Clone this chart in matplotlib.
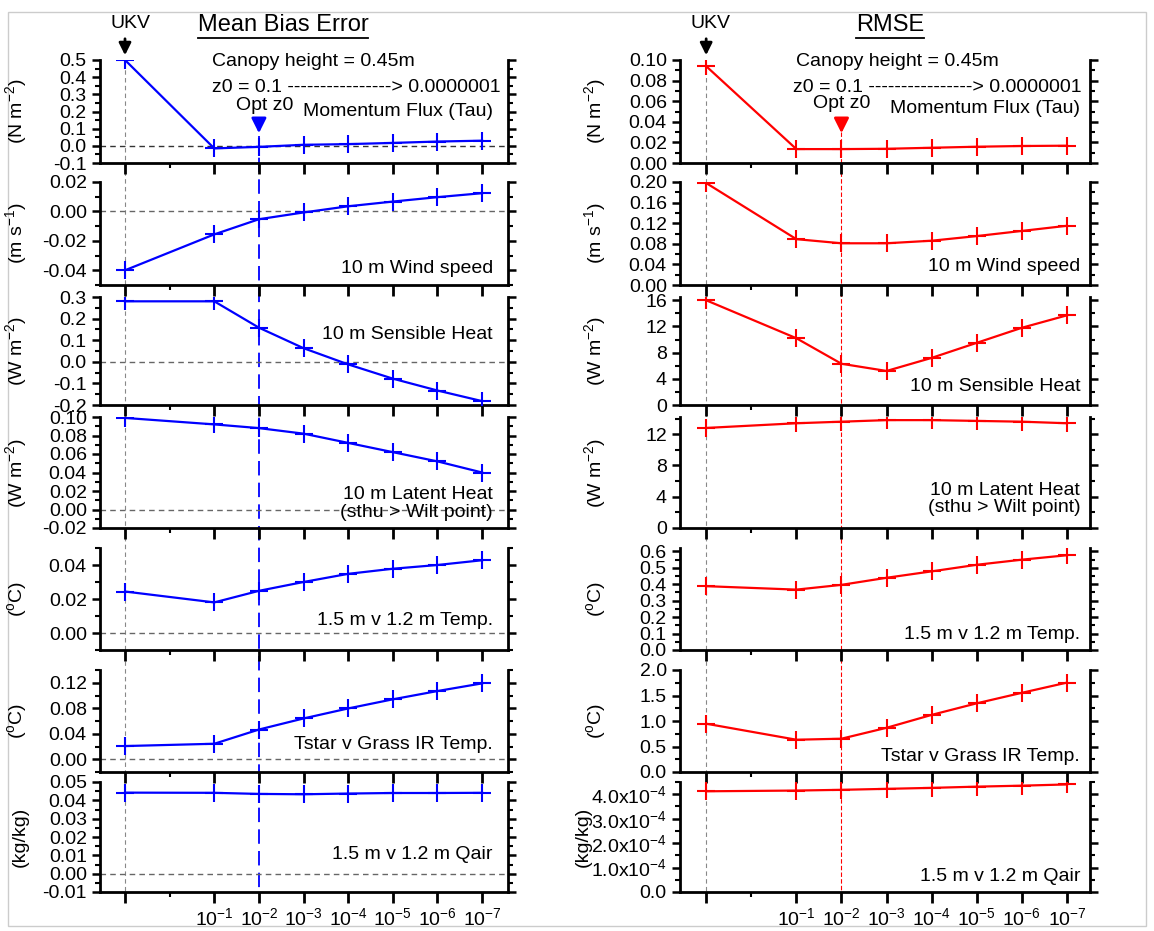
import matplotlib
matplotlib.use('Agg')
import matplotlib.pyplot as plt
from matplotlib.lines import Line2D
from matplotlib.patches import Rectangle
from matplotlib.ticker import MultipleLocator, FixedLocator, FixedFormatter, FuncFormatter
from matplotlib.transforms import blended_transform_factory

plt.rcParams['font.family'] = ['Liberation Sans', 'DejaVu Sans']
plt.rcParams['mathtext.default'] = 'regular'

# x positions: UKV then z0 = 10^-1 ... 10^-7
x_pos = [-1, 1, 2, 3, 4, 5, 6, 7]
x_labels = ['', '10$^{-1}$', '10$^{-2}$', '10$^{-3}$', '10$^{-4}$',
            '10$^{-5}$', '10$^{-6}$', '10$^{-7}$']

# Mean Bias Error
mbe_tau = [0.5, -0.015, -0.006, 0.006, 0.010, 0.017, 0.025, 0.030]
mbe_wind = [-0.040, -0.0156, -0.0053, -0.0007, 0.0035, 0.0067, 0.0097, 0.0124]
mbe_sens = [0.280, 0.280, 0.158, 0.063, -0.012, -0.078, -0.133, -0.182]
mbe_lat = [0.099, 0.092, 0.088, 0.082, 0.072, 0.062, 0.052, 0.040]
mbe_temp = [0.0244, 0.0180, 0.0248, 0.0300, 0.0348, 0.0378, 0.0400, 0.0428]
mbe_tstar = [0.0207, 0.0243, 0.0466, 0.064, 0.0797, 0.094, 0.107, 0.119]
mbe_qair = [0.0442, 0.0441, 0.0435, 0.0433, 0.0437, 0.0440, 0.0440, 0.0441]

# RMSE
rmse_tau = [0.094, 0.0135, 0.0135, 0.0138, 0.0148, 0.0158, 0.0165, 0.0168]
rmse_wind = [0.198, 0.089, 0.081, 0.081, 0.086, 0.095, 0.105, 0.115]
rmse_sens = [16.0, 10.2, 6.3, 5.2, 7.2, 9.5, 11.8, 13.7]
rmse_lat = [12.8, 13.4, 13.6, 13.8, 13.8, 13.7, 13.6, 13.4]
rmse_temp = [0.388, 0.367, 0.396, 0.439, 0.478, 0.518, 0.549, 0.576]
rmse_tstar = [0.947, 0.633, 0.653, 0.867, 1.12, 1.347, 1.553, 1.753]
rmse_qair = [4.12e-4, 4.15e-4, 4.18e-4, 4.22e-4, 4.26e-4, 4.31e-4, 4.35e-4, 4.40e-4]

W, H = 1154, 931
def fx(px):
    return px / W
def fy(py):
    return 1 - py / H

rows = [(60, 163), (182, 285), (297, 405), (417, 528), (548, 650), (670, 772), (782, 892)]
cols = [(100, 508), (680, 1090)]
xlims = [(-1.56, 7.58), (-1.58, 7.51)]

fig = plt.figure(figsize=(W / 100, H / 100), dpi=100)

def qfmt(v, p):
    if abs(v) < 1e-12:
        return '0.0'
    return '%.1fx10$^{-4}$' % (v * 1e4)

left_specs = [
    (mbe_tau, '(N m$^{-2}$)', (-0.1, 0.5), 0.1, 0.05, '%.1f', 'Momentum Flux (Tau)', 0.50),
    (mbe_wind, '(m s$^{-1}$)', (-0.05, 0.02), 0.02, 0.01, '%.2f', '10 m Wind speed', 0.165),
    (mbe_sens, '(W m$^{-2}$)', (-0.2, 0.3), 0.1, 0.05, '%.1f', '10 m Sensible Heat', 0.65),
    (mbe_lat, '(W m$^{-2}$)', (-0.02, 0.10), 0.02, 0.01, '%.2f', '10 m Latent Heat\n(sthu > Wilt point)', 0.22),
    (mbe_temp, '($^{o}$C)', (-0.01, 0.05), 0.02, 0.01, '%.2f', '1.5 m v 1.2 m Temp.', 0.29),
    (mbe_tstar, '($^{o}$C)', (-0.02, 0.14), 0.04, 0.02, '%.2f', 'Tstar v Grass IR Temp.', 0.265),
    (mbe_qair, '(kg/kg)', (-0.01, 0.05), 0.01, 0.005, '%.2f', '1.5 m v 1.2 m Qair', 0.34),
]
right_specs = [
    (rmse_tau, '(N m$^{-2}$)', (0, 0.10), 0.02, 0.01, '%.2f', 'Momentum Flux (Tau)', 0.53),
    (rmse_wind, '(m s$^{-1}$)', (0, 0.20), 0.04, 0.02, '%.2f', '10 m Wind speed', 0.175),
    (rmse_sens, '(W m$^{-2}$)', (0, 16.5), 4, 2, '%d', '10 m Sensible Heat', 0.17),
    (rmse_lat, '(W m$^{-2}$)', (0, 14.2), 4, 2, '%d', '10 m Latent Heat\n(sthu > Wilt point)', 0.26),
    (rmse_temp, '($^{o}$C)', (0, 0.62), 0.1, 0.05, '%.1f', '1.5 m v 1.2 m Temp.', 0.15),
    (rmse_tstar, '($^{o}$C)', (0, 2.0), 0.5, 0.25, '%.1f', 'Tstar v Grass IR Temp.', 0.15),
    (rmse_qair, '(kg/kg)', (0, 4.5e-4), 1e-4, 0.5e-4, None, '1.5 m v 1.2 m Qair', 0.14),
]

axes = [[], []]
for ci, (specs, color) in enumerate([(left_specs, '#0000ff'), (right_specs, '#ff0000')]):
    x0, x1 = cols[ci]
    for ri, spec in enumerate(specs):
        vals, ylab, ylim, major, minor, fmt, label, ty = spec
        top, bot = rows[ri]
        ax = fig.add_axes([fx(x0), fy(bot), (x1 - x0) / W, (bot - top) / H])
        ax.set_facecolor('none')
        ax.plot(x_pos, vals, color=color, lw=1.6, marker='+', ms=13, mew=1.5, zorder=3)
        if ci == 0:
            ax.axhline(0, color='#333333' if ri == 0 else '#666666', lw=1,
                       ls=(0, (4, 3)), zorder=1)
        ax.set_xlim(*xlims[ci])
        ax.set_ylim(*ylim)
        ax.yaxis.set_major_locator(MultipleLocator(major))
        ax.yaxis.set_minor_locator(MultipleLocator(minor))
        if fmt is None:
            ax.yaxis.set_major_formatter(FuncFormatter(qfmt))
        else:
            ax.yaxis.set_major_formatter(FuncFormatter(lambda v, p, f=fmt: f % (round(v) if f == '%d' else v)))
        ax.xaxis.set_major_locator(FixedLocator(x_pos))
        ax.xaxis.set_minor_locator(FixedLocator([0]))
        if ri == len(specs) - 1:
            ax.xaxis.set_major_formatter(FixedFormatter(x_labels))
        else:
            ax.set_xticklabels([])
        ax.spines['top'].set_visible(False)
        for s in ['left', 'right', 'bottom']:
            ax.spines[s].set_linewidth(2)
        ax.tick_params(axis='y', which='major', direction='out', length=6, width=1.8,
                       left=True, right=True, labelsize=14, pad=3.5)
        ax.tick_params(axis='y', which='minor', direction='out', length=3.5, width=1.5,
                       left=True, right=True)
        ax.tick_params(axis='x', which='major', direction='out', length=8, width=2,
                       labelsize=14, pad=3)
        ax.tick_params(axis='x', which='minor', direction='out', length=3.5, width=1.5)
        ax.set_ylabel(ylab, fontsize=14)
        if ci == 1 and ri == len(specs) - 1:
            ax.yaxis.set_label_coords(-0.215, 0.5)
        else:
            ax.yaxis.set_label_coords(-0.175, 0.5)
        tx = 0.963 if ci == 0 else 0.976
        ax.text(tx, ty, label, transform=ax.transAxes, ha='right', va='center',
                fontsize=14, multialignment='right', linespacing=1.05)
        axes[ci].append(ax)

# vertical guide lines across all panels
for ci, (color, dash, lw, ystart) in enumerate([('#0000ff', (8, 4), 1.3, 136), ('#ff0000', (4, 2), 0.8, 132)]):
    ax = axes[ci][0]
    tr = blended_transform_factory(ax.transData, fig.transFigure)
    fig.lines.append(Line2D([-1, -1], [fy(62), fy(892)], transform=tr, color='#888888',
                            lw=0.8, ls=(0, (4, 3)), zorder=-1))
    fig.lines.append(Line2D([2, 2], [fy(ystart), fy(892)], transform=tr, color=color,
                            lw=lw, ls=(0, dash), zorder=-1))

# arrows and annotations on the top panels
for ci, (color, ukv_x, opt_x, opt_y, canopy_x, z0_x, title, title_x) in enumerate([
        ('#0000ff', 130, 265, 106, 212, 212, 'Mean Bias Error', 283),
        ('#ff0000', 711, 842, 103, 796, 793, 'RMSE', 890)]):
    ax = axes[ci][0]
    ax.annotate('', xy=(-1, fy(58)), xytext=(-1, fy(36)),
                xycoords=('data', 'figure fraction'), textcoords=('data', 'figure fraction'),
                arrowprops=dict(arrowstyle='-|>', color='black', lw=2, mutation_scale=18))
    ax.annotate('', xy=(2, fy(136)), xytext=(2, fy(117)),
                xycoords=('data', 'figure fraction'), textcoords=('data', 'figure fraction'),
                arrowprops=dict(arrowstyle='-|>', color=color, lw=2, mutation_scale=22))
    fig.text(fx(ukv_x), fy(24), 'UKV', ha='center', va='center', fontsize=14)
    fig.text(fx(opt_x), fy(opt_y), 'Opt z0', ha='center', va='center', fontsize=14)
    fig.text(fx(canopy_x), fy(62), 'Canopy height = 0.45m', ha='left', va='center', fontsize=14)
    fig.text(fx(z0_x), fy(87), 'z0 = 0.1 ----------------> 0.0000001', ha='left', va='center',
             fontsize=14)
    t = fig.text(fx(title_x), fy(25), title, ha='center', va='center', fontsize=17)
    fig.canvas.draw()
    bb = t.get_window_extent()
    x_a, x_b = bb.x0 / fig.bbox.width, bb.x1 / fig.bbox.width
    fig.lines.append(Line2D([x_a, x_b], [fy(38), fy(38)], transform=fig.transFigure,
                            color='black', lw=1.3))

fig.patches.append(Rectangle((fx(8), fy(926)), fx(1146) - fx(8), fy(12) - fy(926),
                             transform=fig.transFigure, fill=False, ec='#cccccc', lw=1, zorder=-2))

fig.savefig('out.png', dpi=100)
